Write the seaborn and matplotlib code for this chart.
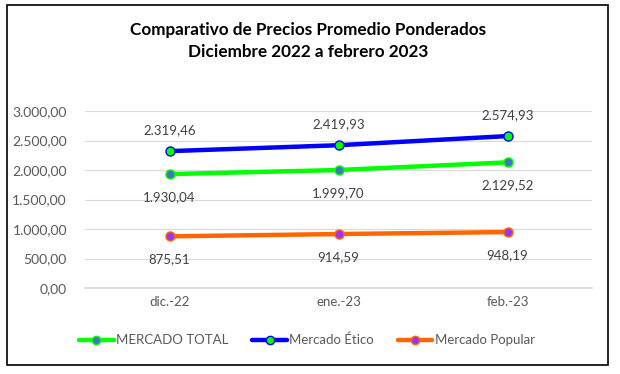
import matplotlib
matplotlib.use("Agg")
import matplotlib.pyplot as plt
import seaborn as sns
import pandas as pd
from matplotlib.patches import Rectangle
from matplotlib.lines import Line2D

# datos
meses = ["dic.-22", "ene.-23", "feb.-23"]
total = [1930.04, 1999.70, 2129.52]
etico = [2319.46, 2419.93, 2574.93]
popular = [875.51, 914.59, 948.19]
series = ["MERCADO TOTAL", "Mercado Ético", "Mercado Popular"]
yticks = [0, 500, 1000, 1500, 2000, 2500, 3000]

sns.set_theme(style="white")
plt.rcParams["font.family"] = ["Lato", "DejaVu Sans"]

def fmt(v):
    s = f"{v:,.2f}"
    return s.replace(",", "X").replace(".", ",").replace("X", ".")

df = pd.DataFrame({
    "mes": meses * 3,
    "valor": total + etico + popular,
    "serie": [series[0]] * 3 + [series[1]] * 3 + [series[2]] * 3,
})

line_c = {series[0]: "#00FF00", series[1]: "#0000FF", series[2]: "#FF6600"}
face_c = {series[0]: "#4472C4", series[1]: "#00FF00", series[2]: "#9933FF"}

fig = plt.figure(figsize=(6.2, 3.74), dpi=100)
ax = fig.add_axes([85 / 620, 1 - 288 / 374, (592 - 85) / 620, (288 - 111) / 374])

for s in series:
    d = df[df["serie"] == s]
    sns.lineplot(data=d, x="mes", y="valor", ax=ax, color=line_c[s], lw=3.2,
                 marker="o", markersize=6.5, markerfacecolor=face_c[s],
                 markeredgecolor=line_c[s], markeredgewidth=1.0, zorder=3)

# etiquetas de datos
lab = dict(fontsize=9.5, color="#404040", ha="center", textcoords="offset points")
for i, v in enumerate(etico):
    ax.annotate(fmt(v), (i, v), xytext=(0, 11), va="bottom", **lab)
for i, v in enumerate(total):
    ax.annotate(fmt(v), (i, v), xytext=(0, -12), va="top", **lab)
for i, v in enumerate(popular):
    ax.annotate(fmt(v), (i, v), xytext=(0, -12), va="top", **lab)

ax.set_xlim(-0.5, 2.5)
ax.set_ylim(0, 3000)
ax.set_yticks(yticks)
ax.set_yticklabels([fmt(v) for v in yticks], fontsize=10, color="#595959")
ax.set_xticks(range(len(meses)))
ax.set_xticklabels(meses, fontsize=9.5, color="#595959")
ax.set_xticks([-0.5, 0.5, 1.5, 2.5], minor=True)
ax.tick_params(axis="x", which="major", length=0, pad=6)
ax.tick_params(axis="x", which="minor", length=4, color="#D9D9D9", direction="out")
ax.tick_params(axis="y", length=0, pad=13)
ax.set_xlabel("")
ax.set_ylabel("")
ax.grid(axis="y", color="#D9D9D9", lw=0.8)
ax.set_axisbelow(True)
for sp in ["top", "right", "left"]:
    ax.spines[sp].set_visible(False)
ax.spines["bottom"].set_color("#D9D9D9")
if ax.get_legend():
    ax.get_legend().remove()

fig.text(308 / 620, 1 - 30 / 374, "Comparativo de Precios Promedio Ponderados",
         ha="center", va="center", fontsize=12.3, fontweight="bold", color="black")
fig.text(308 / 620, 1 - 52 / 374, "Diciembre 2022 a febrero 2023",
         ha="center", va="center", fontsize=12.3, fontweight="bold", color="black")

handles = [Line2D([0], [0], color=line_c[s], lw=3.2, marker="o", markersize=6,
                  markerfacecolor=face_c[s], markeredgecolor=line_c[s])
           for s in series]
fig.legend(handles, series, loc="center", bbox_to_anchor=(307 / 620, 1 - 340 / 374),
           ncol=3, frameon=False, fontsize=9.5, handlelength=2.6,
           handletextpad=0.2, columnspacing=1.8, labelcolor="#595959")

fig.patches.append(Rectangle((7 / 620, 1 - 365 / 374), 601 / 620, 360 / 374,
                             transform=fig.transFigure, fill=False,
                             edgecolor="black", lw=1.2))

fig.savefig("out.png", dpi=100)
